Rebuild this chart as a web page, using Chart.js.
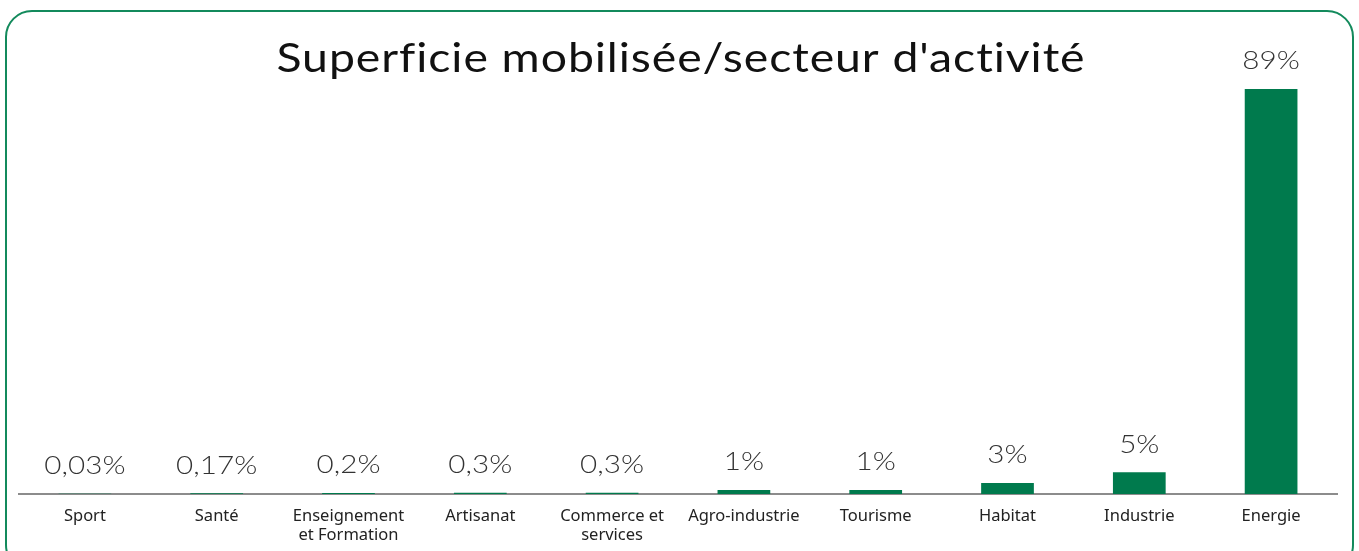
<!DOCTYPE html>
<html lang="fr">
<head>
<meta charset="utf-8">
<title>Superficie mobilisée/secteur d'activité</title>
<script src="https://cdn.jsdelivr.net/npm/chart.js@4"></script>
<style>
  html, body { margin: 0; padding: 0; background: #fff; overflow: hidden; }
  canvas { display: block; }
</style>
</head>
<body>
<canvas id="chart" width="1359" height="551"></canvas>
<script>
// Data
const chartTitle = "Superficie mobilisée/secteur d'activité";
const categories = ["Sport", "Santé", ["Enseignement", "et Formation"], "Artisanat", ["Commerce et", "services"], "Agro-industrie", "Tourisme", "Habitat", "Industrie", "Energie"];
const shares = [0.03, 0.17, 0.2, 0.3, 0.3, 0.9, 0.9, 2.4, 4.8, 89];
const shareLabels = ["0,03%", "0,17%", "0,2%", "0,3%", "0,3%", "1%", "1%", "3%", "5%", "89%"];

const FONT = "Lato, 'Open Sans', sans-serif";
const GREEN = "#007a4d";

// the original font is a wide geometric one, so stretch Lato a bit
function wideText(ctx, text, x, y, stretch) {
    ctx.save();
    ctx.translate(x, y);
    ctx.scale(stretch, 1);
    ctx.fillText(text, 0, 0);
    ctx.restore();
}

// Rounded frame + title, drawn behind the chart
const framePlugin = {
    id: "frame",
    beforeDraw(chart) {
        const ctx = chart.ctx;
        ctx.save();
        ctx.strokeStyle = "#138a5c";
        ctx.lineWidth = 2;
        ctx.beginPath();
        ctx.roundRect(6, 11, 1347, 560, 26);
        ctx.stroke();

        ctx.fillStyle = "#111";
        ctx.font = "400 40px " + FONT;
        ctx.letterSpacing = "0.8px";  // also breaks the "fi" ligature
        ctx.textAlign = "center";
        ctx.textBaseline = "middle";
        const w = ctx.measureText(chartTitle).width;
        wideText(ctx, chartTitle, 681, 59, 809 / w);
        ctx.restore();
    }
};

// Value labels above each bar
const valueLabels = {
    id: "valueLabels",
    afterDatasetsDraw(chart) {
        const ctx = chart.ctx;
        const meta = chart.getDatasetMeta(0);
        ctx.save();
        ctx.fillStyle = "#333";
        ctx.font = "300 26px " + FONT;
        ctx.textAlign = "center";
        ctx.textBaseline = "middle";
        meta.data.forEach((bar, i) => {
            wideText(ctx, shareLabels[i], bar.x, bar.y - 28, 1.14);
        });
        ctx.restore();
    }
};

new Chart(document.getElementById("chart"), {
    type: "bar",
    data: {
        labels: categories,
        datasets: [{
            data: shares,
            backgroundColor: GREEN,
            borderWidth: 0,
            categoryPercentage: 1,
            barPercentage: 0.4
        }]
    },
    options: {
        responsive: false,
        animation: false,
        layout: { padding: { left: 19, right: 22, top: 89, bottom: 0 } },
        plugins: {
            legend: { display: false },
            tooltip: { enabled: false }
        },
        scales: {
            x: {
                grid: { display: false },
                border: { display: true, color: "#8c8c8c", width: 2 },
                ticks: {
                    color: "#222",
                    font: { family: "'Noto Sans', sans-serif", size: 16.5, lineHeight: 1.15 },
                    padding: 5,
                    maxRotation: 0,
                    autoSkip: false
                },
                afterFit(scale) { scale.height = 57; }
            },
            y: {
                display: false,
                min: 0,
                max: 89
            }
        }
    },
    plugins: [framePlugin, valueLabels]
});
</script>
</body>
</html>
